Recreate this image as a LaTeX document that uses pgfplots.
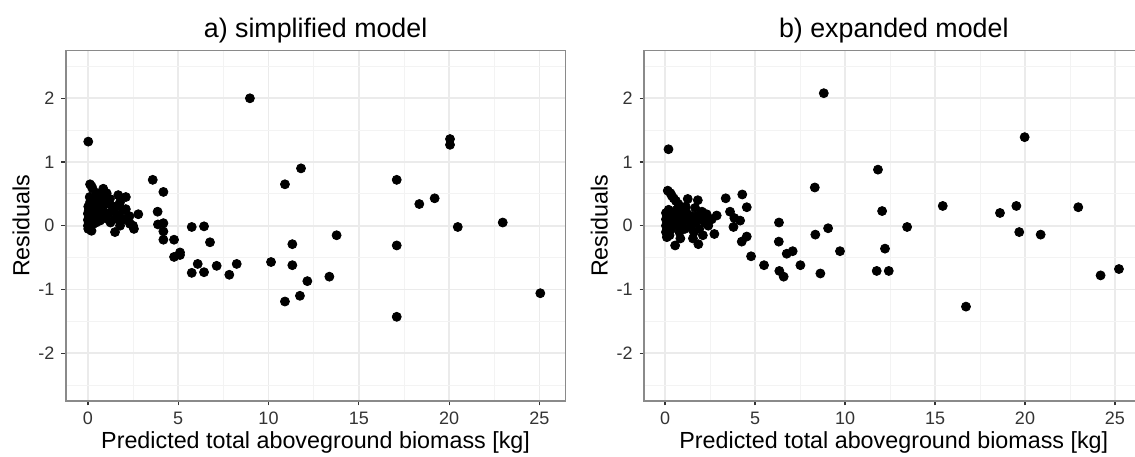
\documentclass[border=0pt]{standalone}
\usepackage{fontspec}
\setmainfont{Liberation Sans}
\usepackage{pgfplots}
\pgfplotsset{compat=1.18}
\definecolor{gridc}{HTML}{EBEBEB}
\definecolor{gridminc}{HTML}{F3F3F3}
\definecolor{borderc}{HTML}{8A8A8A}
\definecolor{tickc}{HTML}{333333}
\definecolor{ticklabc}{HTML}{333333}
\pgfplotsset{
 resid/.style={
  scale only axis, width=249.8pt, height=175.2pt,
  ymin=-2.75, ymax=2.75,
  xtick={0,5,10,15,20,25}, xticklabels={0,5,10,15,20,25},
  ytick={-2,-1,0,1,2}, yticklabels={-2,-1,0,1,2},
  minor xtick={2.5,7.5,12.5,17.5,22.5},
  minor ytick={-2.5,-1.5,-0.5,0.5,1.5,2.5},
  grid=both,
  major grid style={gridc, line width=0.8pt},
  minor grid style={gridminc, line width=0.45pt},
  axis line style={borderc, line width=0.7pt},
  tick align=outside, major tick length=2.2pt, minor tick length=0pt,
  major tick style={tickc, line width=0.6pt},
  xtick pos=bottom, ytick pos=left,
  tick label style={font=\fontsize{9}{9}\selectfont, text=ticklabc},
  label style={font=\fontsize{11.65}{12}\selectfont},
  xlabel={Predicted total aboveground biomass [kg]},
  ylabel={Residuals},
  xlabel style={at={(axis description cs:0.5,-0.137)}, anchor=base},
  ylabel style={at={(axis description cs:-0.073,0.5)}, anchor=base},
  every axis title shift=0pt,
  title style={at={(axis description cs:0.5,1.036)}, anchor=base, yshift=0pt, font=\fontsize{13.4}{13.4}\selectfont},
 },
 dots/.style={only marks, mark=*, mark size=2.25pt, black, mark options={fill=black, draw=black}},
}
\begin{document}
\begin{tikzpicture}[x=1pt,y=1pt]
\useasboundingbox (0,0) rectangle (567.5,228);
\clip (0,0) rectangle (567.5,228);
\begin{axis}[resid, at={(32.9pt,27.55pt)}, anchor=south west, xmin=-1.224, xmax=26.44, title={a) simplified model}]
\addplot[dots] table {
x y
0.02 1.32
0.12 0.65
0.26 0.58
0.20 0.62
0.85 0.58
1.04 0.51
0.49 0.51
0.77 0.45
1.22 0.42
1.68 0.48
2.10 0.45
1.78 0.37
0.12 0.37
0.58 0.40
0.95 0.34
1.32 0.31
0.39 0.30
0.02 0.30
0.05 0.24
0.25 0.22
1.41 0.24
1.96 0.24
2.10 0.26
2.79 0.18
0.00 0.19
0.30 0.16
0.67 0.21
1.13 0.19
1.68 0.16
0.00 0.09
0.15 0.12
0.50 0.14
1.04 0.11
1.50 0.11
2.15 0.11
0.67 0.08
1.87 0.08
0.30 0.03
2.33 0.03
0.02 -0.05
0.00 0.00
1.78 0.00
0.20 -0.08
1.50 -0.10
2.55 -0.05
2.50 0.00
0.40 0.25
0.80 0.28
0.60 0.33
1.00 0.20
0.10 0.45
0.35 0.42
0.45 0.05
1.25 0.05
0.85 0.15
1.60 0.30
0.05 0.05
0.70 0.48
2.30 0.15
3.59 0.72
4.18 0.53
3.86 0.22
3.88 0.02
4.18 0.04
4.18 -0.09
4.18 -0.22
4.77 -0.22
5.75 -0.02
6.43 -0.01
6.76 -0.26
4.77 -0.49
5.10 -0.42
5.10 -0.46
5.75 -0.74
6.08 -0.60
6.43 -0.73
7.13 -0.63
7.83 -0.77
8.24 -0.60
8.97 2.00
10.14 -0.57
10.91 0.65
11.80 0.90
11.32 -0.29
11.32 -0.62
10.91 -1.19
11.74 -1.10
12.15 -0.87
13.37 -0.80
13.77 -0.15
17.10 0.72
17.10 -0.31
17.10 -1.43
18.35 0.34
19.20 0.43
20.05 1.36
20.05 1.27
20.48 -0.02
22.97 0.05
25.05 -1.06
};
\end{axis}
\begin{axis}[resid, at={(322pt,27.55pt)}, anchor=south west, xmin=-1.17, xmax=26.59, title={b) expanded model}]
\addplot[dots] table {
x y
0.19 1.20
0.15 0.55
0.30 0.51
0.37 0.47
0.48 0.43
0.60 0.39
0.74 0.34
1.26 0.42
1.82 0.40
1.67 0.28
0.93 0.26
2.31 0.18
2.59 0.10
2.87 0.16
2.74 -0.13
1.85 -0.29
0.56 -0.31
0.05 0.20
0.05 0.10
0.05 0.00
0.05 -0.10
0.10 -0.18
0.20 0.25
0.30 0.15
0.40 0.05
0.35 -0.05
0.50 0.20
0.60 0.10
0.70 0.00
0.80 -0.10
0.90 0.15
1.00 0.05
1.10 -0.05
1.20 0.20
1.30 0.10
1.40 -0.02
1.50 0.15
1.60 -0.10
1.70 0.05
1.80 0.15
1.90 -0.05
2.00 0.10
2.10 -0.15
2.20 0.05
2.40 0.00
1.55 -0.20
0.85 -0.20
0.25 -0.15
1.15 0.30
2.05 0.22
0.65 0.25
0.15 0.05
3.37 0.43
4.29 0.49
4.54 0.29
3.61 0.22
3.85 0.12
4.17 0.08
3.80 -0.02
4.26 -0.25
4.54 -0.17
4.78 -0.48
5.50 -0.62
6.33 0.05
6.32 -0.25
6.76 -0.44
7.09 -0.40
6.35 -0.71
6.59 -0.80
7.52 -0.62
8.32 0.60
8.35 -0.14
8.63 -0.75
8.82 2.08
9.06 -0.04
9.72 -0.40
11.83 0.88
12.06 0.23
12.22 -0.36
11.76 -0.71
12.43 -0.71
13.45 -0.02
15.43 0.31
16.72 -1.27
18.61 0.20
19.52 0.31
19.68 -0.10
19.98 1.39
20.87 -0.14
22.96 0.29
24.20 -0.78
25.22 -0.68
};
\end{axis}
\end{tikzpicture}
\end{document}
